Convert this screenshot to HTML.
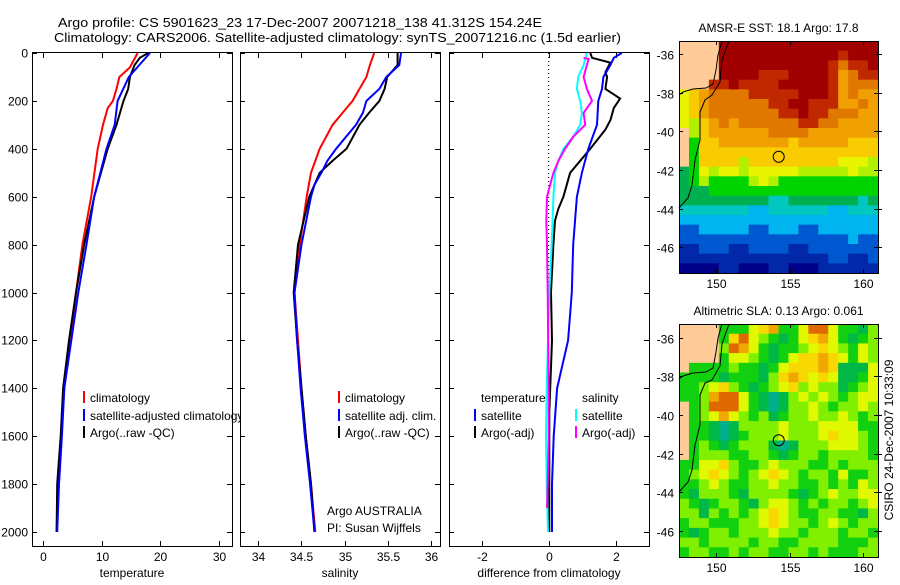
<!DOCTYPE html>
<html><head><meta charset="utf-8"><style>
body{margin:0;background:#fff;}
svg text{font-family:"Liberation Sans",sans-serif;fill:#000;}
</style></head><body>
<svg id="fig" width="900" height="580" viewBox="0 0 900 580" xmlns="http://www.w3.org/2000/svg">
<rect width="900" height="580" fill="#fff"/>
<text x="58" y="27" font-size="13" textLength="484" lengthAdjust="spacingAndGlyphs">Argo profile: CS 5901623_23 17-Dec-2007 20071218_138 41.312S 154.24E</text>
<text x="54" y="42" font-size="13" textLength="567" lengthAdjust="spacingAndGlyphs">Climatology: CARS2006. Satellite-adjusted climatology: synTS_20071216.nc (1.5d earlier)</text>
<g id="plots"></g>
</svg>
<script>
// ---------- profile data ----------
const depthTicks = [0,200,400,600,800,1000,1200,1400,1600,1800,2000];
const tempTicks = [0,10,20,30];
const salTicks = [34,34.5,35,35.5,36];
const diffTicks = [-2,0,2];

const tClimD = [0,60,100,150,200,230,300,400,600,800,1000,1200,1400,1600,1800,2000];
const tClimV = [16.1,14.8,13.0,12.5,11.9,11.0,10.2,9.3,8.2,6.7,5.6,4.6,3.6,3.1,2.6,2.3];
const tSatD = [0,100,200,300,400,600,800,1000,1200,1400,1600,1800,2000];
const tSatV = [18.2,14.6,12.7,12.2,10.8,8.7,7.4,6.0,4.8,3.6,3.2,2.7,2.4];
const tArgoD = [0,20,50,100,150,200,300,400,600,800,1000,1200,1400,1600,1800,2000];
const tArgoV = [17.9,16.5,15.6,14.8,14.5,13.7,12.5,11.0,8.7,7.0,5.6,4.4,3.4,3.0,2.4,2.3];

const sClimD = [0,50,100,150,200,230,300,400,500,600,800,1000,1200,1400,1600,1800,2000];
const sClimV = [35.34,35.29,35.25,35.17,35.09,35.02,34.86,34.71,34.61,34.56,34.48,34.42,34.46,34.50,34.55,34.61,34.66];
const sSatD = [0,50,100,150,200,250,300,400,450,500,550,600,800,1000,1200,1400,1600,1800,2000];
const sSatV = [35.65,35.63,35.48,35.40,35.25,35.21,35.13,34.90,34.80,34.73,34.65,34.61,34.50,34.42,34.45,34.49,34.54,34.60,34.65];
const sArgoD = [0,50,100,150,200,250,300,400,450,500,600,800,1000,1200,1400,1600,1800,2000];
const sArgoV = [35.61,35.61,35.49,35.46,35.40,35.28,35.17,35.02,34.86,34.71,34.59,34.46,34.41,34.45,34.50,34.55,34.61,34.65];

const dTSatD = [0,20,50,100,150,200,300,400,500,600,800,1000,1200,1400,1600,1800,2000];
const dTSatV = [2.18,1.94,1.84,1.63,1.59,1.48,1.44,1.18,0.99,0.84,0.73,0.69,0.58,0.25,0.15,0.10,0.10];
const dTArgoD = [0,20,40,80,100,150,190,230,280,320,400,450,500,550,600,650,700,800,1000,1200,1500,2000];
const dTArgoV = [1.24,1.29,1.84,1.69,1.74,1.69,2.13,1.94,1.84,1.69,1.24,0.94,0.64,0.54,0.44,0.29,0.19,0.14,0.07,0.10,0.02,0.02];
const dSSatD = [0,50,100,150,200,250,300,350,400,450,500,600,800,1000,1400,1600,1800,2000];
const dSSatV = [1.14,1.04,0.88,0.84,0.94,0.99,0.94,0.73,0.44,0.29,0.19,0.14,0.09,0.02,-0.06,-0.08,-0.06,-0.02];
const dSArgoD = [20,25,50,100,150,200,250,300,350,400,450,500,600,700,800,1000,1400,1600,1800,1900];
const dSArgoV = [1.04,1.19,1.14,1.04,1.14,1.29,1.04,1.09,0.73,0.49,0.29,0.14,-0.05,-0.07,-0.05,-0.03,0.0,0.0,-0.03,-0.05];

// ---------- map data ----------
const sstRows = [
"xxxxDDDDDDDDDDDDDDDD","xxxxDDDDDDDDDDDDRDDD","xxxxDDDDDDDDDDDRORRD","xxxxDDDDRRRDDDDRoORR",
"xxxRRDRRRRDDDDDRoOOO","yYoOOOORRRRRDDDRoOoo","yYoOOOOOORRDDRRRooOo","yYoOOOOOOORRDRROOOoo",
"yLYoOoOOOOOORROOoooo","xLYooooooOOOOooooooo","xGYYoooooooYoooooYYY","xGYYYYYYYYYYYYYYYYYY",
"xGYYYYLYYYYYYYYYyyyL","gGyLyyLyyyyyLLLLLyLL","gGLGGGGLyLGGGGGGGGGG","gggGGGGGGGGGGGGGGGGG",
"gggggggggTTgggggggTg","TTTTTTTCCTTTTTTCCTTT","CCCCCCCCCCCCCCCCCCCC","BBCCCCCBBCCCBBCCCCCC",
"BBBBBBBBBBBBBBBBBCBB","NNBBBNNBBBBNNBBBBBBB","NNNNNNNNNNNNNNNBBNNB","KKKKNNKKKNNKKKNNNNNN"];
const slaRows = [
"xxxxGGGyYoGGyOOyGGgL","xxxxGYOyLGgGyYoyGgGL","xxxxLOoyGgGGLyYyLGyL","xxxxGyyLGgGyYYoYyGyL",
"xGGGGLGGgGyYYYoYgggy","GGGGgGGGgLYoYyYyggGy","GGLyYLGgGLyYLyLLgGLy","GGLoOOyGgTgLyLyLGLyy",
"xGLOOOyGgTgLLyLGLLyL","xGLyoyLGLgGLLyLLyLGL","xGGgTgLLLLyLLLyyyyGG","xGGgTgGLLLyLLLyYyyLG",
"xGLGgGLLLgTgLLLyyyLG","xGLLLGGLLGgGLLGLLLLG","GGyyYLGGLyLLLGGLGLLL","GLyYyLGLyYyLGLLGyGGL",
"GGLyLGGLLyLLGGLGLGyL","GgLLLGgLLLLGgGLyLLyy","LGgGLLGgLyyLGLGLLGLy","LLgLGLGLyYyLGGLLGGgL",
"GLLGGGLLyYyLLGLyLGLL","GgGLLGLLLyLLGLLLGLLG","LLGLLLLGLLGGLLLLGGGL","GLLGGLGLLGGLLGLGGGLL"];
const latTicks = [-36,-38,-40,-42,-44,-46];
const lonTicks = [150,155,160];
const floatLon = 154.24, floatLat = -41.312;

const sstColors = {x:"#ffcc99",D:"#a00000",R:"#c02800",O:"#e07800",o:"#f0a000",Y:"#f8cc00",y:"#e8f400",L:"#b0f000",G:"#00d400",g:"#00b050",T:"#00c8c0",C:"#00b4f0",B:"#0058d0",N:"#0028a8",K:"#000088"};
const slaColors = {x:"#ffcc99",G:"#10d010",g:"#00b848",T:"#00b08c",L:"#80f000",y:"#e0f800",Y:"#f8d800",o:"#f0a800",O:"#e06800"};

const NS="http://www.w3.org/2000/svg";
const root=document.getElementById('plots');
function mk(tag,attrs,parent){const e=document.createElementNS(NS,tag);for(const k in attrs)e.setAttribute(k,attrs[k]);(parent||root).appendChild(e);return e;}
function txt(s,x,y,size,anchor,parent){const t=mk('text',{x:x,y:y,'font-size':size,'text-anchor':anchor||'start'},parent);t.textContent=s;return t;}

const Y0=53, YK=0.2395;
function yDepth(d){return Y0+d*YK;}

function panel(name,x0,x1,xmin,xmax,xticks,xlabel,showY){
  const g=mk('g',{});
  
  
  const sx=v=>x0+(v-xmin)/(xmax-xmin)*(x1-x0);
  mk('rect',{x:x0+0.5,y:52.5,width:x1-x0,height:494,fill:'#fff',stroke:'#000','stroke-width':1},g);
  depthTicks.forEach(d=>{const y=Math.round(yDepth(d))+0.5;
    mk('line',{x1:x0,x2:x0+5,y1:y,y2:y,stroke:'#000'},g);
    mk('line',{x1:x1-5,x2:x1,y1:y,y2:y,stroke:'#000'},g);
    if(showY){const t=txt(String(d),28,y+4,12,'end',g);
      
      }
  });
  xticks.forEach(v=>{const x=Math.round(sx(v))+0.5;
    mk('line',{x1:x,x2:x,y1:53,y2:58,stroke:'#000'},g);
    mk('line',{x1:x,x2:x,y1:541,y2:546,stroke:'#000'},g);
    const t=txt(String(v),x,561,12,'middle',g);
    
    
  });
  const lt=txt(xlabel,(x0+x1)/2,577,12,'middle',g);
  
  
  return {g,sx};
}
function series(p,D,V,color,name){
  const pts=D.map((d,i)=>p.sx(V[i]).toFixed(1)+','+yDepth(d).toFixed(1)).join(' ');
  const l=mk('polyline',{points:pts,fill:'none',stroke:color,'stroke-width':2},p.g);
  
  
}
function legend(p,x,y,color,label,name){
  const b=mk('rect',{x:x,y:y-6,width:2,height:12,fill:color},p.g);
  const t=txt(label,x+7,y+5,12,'start',p.g);
  
  
}

const p1=panel('temperature-panel',32,232,-1.9,32.2,tempTicks,'temperature',true);
series(p1,tClimD,tClimV,'#f00','temp-climatology-line');
series(p1,tArgoD,tArgoV,'#000','temp-argo-line');
series(p1,tSatD,tSatV,'#00f','temp-satellite-line');
legend(p1,83,397,'#f00','climatology','legend-climatology');
legend(p1,83,415,'#00f','satellite-adjusted climatology','legend-satellite-adjusted');
legend(p1,83,432,'#000','Argo(..raw -QC)','legend-argo');

const p2=panel('salinity-panel',240,440,33.79,36.1,salTicks,'salinity',false);
series(p2,sClimD,sClimV,'#f00','sal-climatology-line');
series(p2,sArgoD,sArgoV,'#000','sal-argo-line');
series(p2,sSatD,sSatV,'#00f','sal-satellite-line');
legend(p2,338,397,'#f00','climatology','legend-climatology-2');
legend(p2,338,415,'#00f','satellite adj. clim.','legend-satellite-2');
legend(p2,338,432,'#000','Argo(..raw -QC)','legend-argo-2');
let t=txt('Argo AUSTRALIA',327,515,12,'start',p2.g);


t=txt('PI: Susan Wijffels',327,532,12,'start',p2.g);



const p3=panel('difference-panel',449,649,-2.97,2.99,diffTicks,'difference from climatology',false);
mk('line',{x1:p3.sx(0),x2:p3.sx(0),y1:53,y2:532,stroke:'#000','stroke-dasharray':'1,3'},p3.g);
series(p3,dTArgoD,dTArgoV,'#000','diff-temp-argo-line');
series(p3,dTSatD,dTSatV,'#00f','diff-temp-satellite-line');
series(p3,dSSatD,dSSatV,'#0ff','diff-sal-satellite-line');
series(p3,dSArgoD,dSArgoV,'#f0f','diff-sal-argo-line');
t=txt('temperature',481,402,12,'start',p3.g);


legend(p3,474,415,'#00f','satellite','legend-temp-satellite');
legend(p3,474,432,'#000','Argo(-adj)','legend-temp-argo');
t=txt('salinity',582,402,12,'start',p3.g);


legend(p3,575,415,'#0ff','satellite','legend-sal-satellite');
legend(p3,575,432,'#f0f','Argo(-adj)','legend-sal-argo');

// ---------- maps ----------
function map(name,top,bottom,rows,colors,title,coast,contour){
  const g=mk('g',{});
  
  
  const L=679,R=878,lonMin=147.45,lonMax=161.0,latTop=-35.3,latBot=-47.35;
  const sx=v=>L+(v-lonMin)/(lonMax-lonMin)*(R-L);
  const sy=v=>top+(latTop-v)/(latTop-latBot)*(bottom-top);
  const nr=rows.length,nc=rows[0].length,cw=(R-L)/nc,ch=(bottom-top)/nr;
  rows.forEach((row,r)=>{for(let c=0;c<nc;c++){
    const cell=mk('rect',{x:(L+c*cw).toFixed(2),y:(top+r*ch).toFixed(2),width:(cw+0.4).toFixed(2),height:(ch+0.4).toFixed(2),fill:colors[row[c]]},g);
  }});
  mk('polyline',{points:coast.map(p=>p.join(',')).join(' '),fill:'none',stroke:'#000','stroke-width':1},g);
  mk('polyline',{points:contour.map(p=>p.join(',')).join(' '),fill:'none',stroke:'#000','stroke-width':1},g);
  mk('rect',{x:L+0.5,y:top+0.5,width:R-L,height:bottom-top,fill:'none',stroke:'#000'},g);
  latTicks.forEach(v=>{const y=Math.round(sy(v))+0.5;
    mk('line',{x1:L,x2:L+4,y1:y,y2:y,stroke:'#000'},g);
    mk('line',{x1:R-4,x2:R+4,y1:y,y2:y,stroke:'#000'},g);
    const tl=txt(String(v),674,y+5,12,'end',g);
    
    });
  lonTicks.forEach(v=>{const x=Math.round(sx(v))+0.5;
    mk('line',{x1:x,x2:x,y1:top,y2:top+4,stroke:'#000'},g);
    mk('line',{x1:x,x2:x,y1:bottom-4,y2:bottom,stroke:'#000'},g);
    const tl=txt(String(v),x,bottom+15,12,'middle',g);
    
    });
  const c=mk('circle',{cx:sx(floatLon),cy:sy(floatLat),r:5.5,fill:'none',stroke:'#000'},g);
  
  
  const tt=txt(title,(L+R)/2,top-9,12,'middle',g);
  
  
}
const coastTop=[[722,41],[718,55],[716,70],[713,84],[706,88],[693,89],[683,92],[679,95]];
const contourTop=[[729,41],[722,60],[720,82],[712,95],[705,100],[700,112],[700,140],[695,160],[692,185],[688,198],[679,208]];
map('sst-map',41,273,sstRows,sstColors,'AMSR-E SST: 18.1 Argo: 17.8',coastTop,contourTop);
const coastBot=[[722,324],[718,338],[716,352],[713,368],[706,372],[693,373],[683,376],[679,379]];
const contourBot=[[729,324],[722,344],[720,366],[712,380],[705,383],[700,395],[700,425],[695,445],[692,470],[688,482],[679,492]];
map('sla-map',324,557,slaRows,slaColors,'Altimetric SLA: 0.13 Argo: 0.061',coastBot,contourBot);

t=txt('CSIRO 24-Dec-2007 10:33:09',0,0,12,'middle');
t.setAttribute('transform','translate(893,440) rotate(-90)');


</script>
</body></html>
